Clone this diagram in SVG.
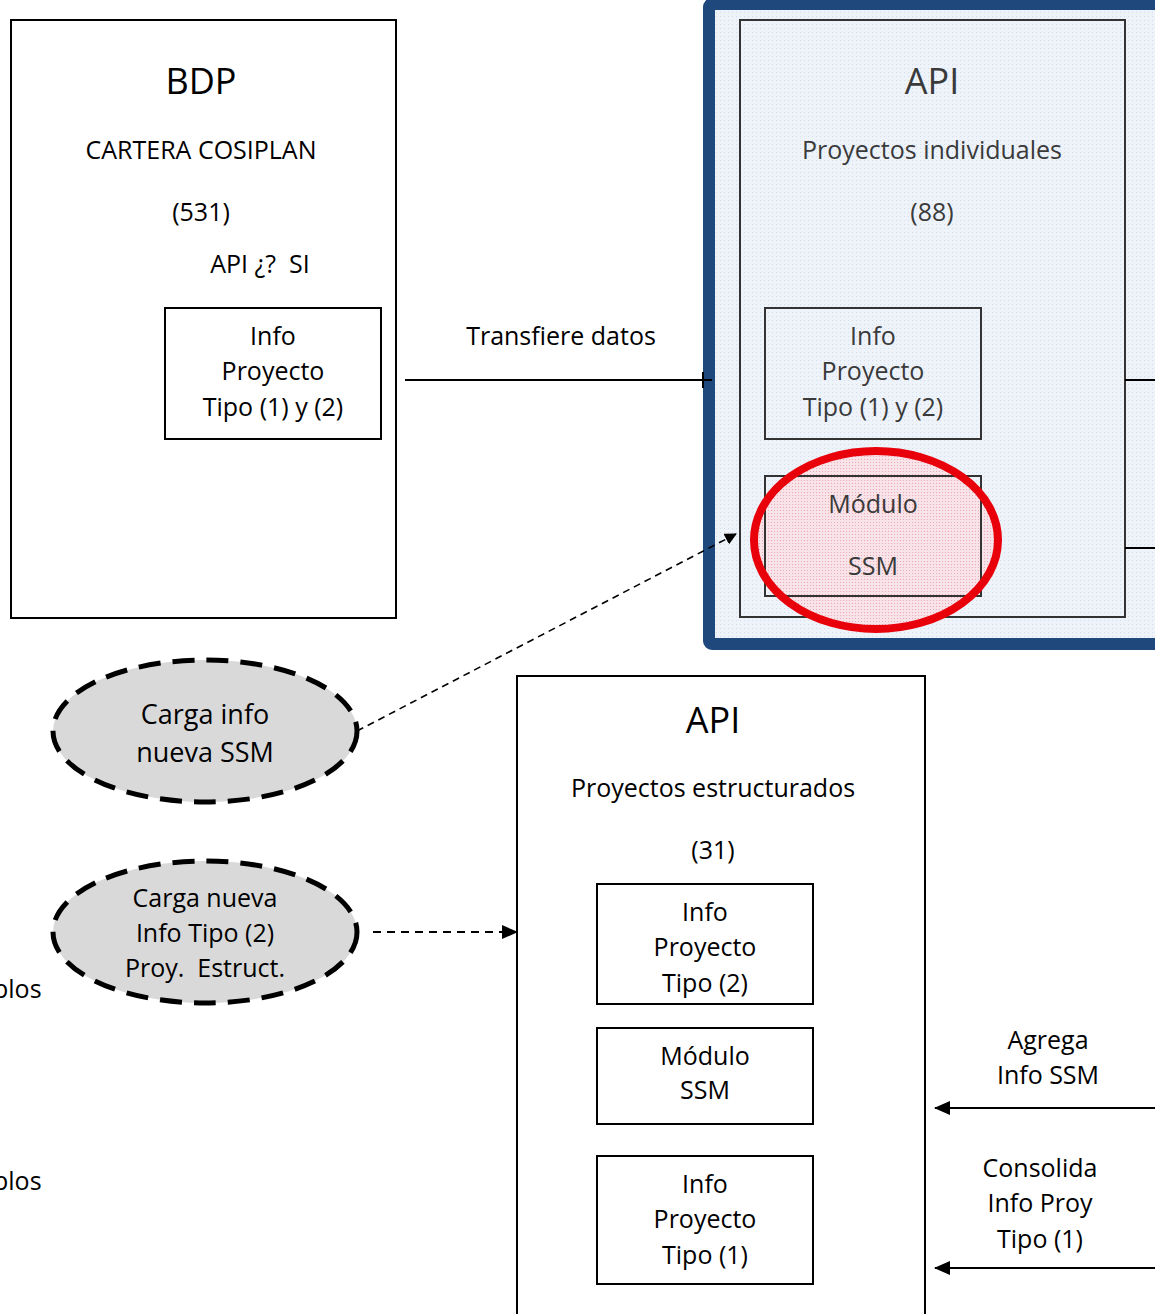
<svg xmlns="http://www.w3.org/2000/svg" width="1155" height="1314" viewBox="0 0 1155 1314">
<style>
text{font-family:"Open Sans","Noto Sans","Liberation Sans",sans-serif;fill:#000;text-anchor:middle}
.t{font-size:36px}
.b{font-size:25px}
.g{fill:#3a3a3a}
.box{fill:none;stroke:#000;stroke-width:2}
.gbox{fill:none;stroke:#333;stroke-width:2}
.ell{fill:#D9D9D9;stroke:#000;stroke-width:5;stroke-dasharray:22 12}
.ln{fill:none;stroke:#000;stroke-width:2}
</style>
<defs>
<pattern id="grid" width="4" height="4" patternUnits="userSpaceOnUse">
<rect width="4" height="4" fill="#EEF3FA"/>
<rect width="1" height="1" fill="#D3DDEE"/>
</pattern>
<pattern id="pink" width="3" height="3" patternUnits="userSpaceOnUse">
<rect width="3" height="3" fill="#F7E3E8"/>
<rect width="1" height="1" fill="#E8A9B8"/>
</pattern>
<marker id="tri" markerWidth="12" markerHeight="12" refX="11" refY="6" orient="auto" markerUnits="userSpaceOnUse">
<path d="M0,0 L12,6 L0,12 z" fill="#000"/>
</marker>
<marker id="tri2" markerWidth="16" markerHeight="14" refX="15" refY="7" orient="auto" markerUnits="userSpaceOnUse">
<path d="M0,0 L16,7 L0,14 z" fill="#000"/>
</marker>
</defs>
<rect width="1155" height="1314" fill="#fff"/>

<g id="bdp">
<rect class="box" x="11" y="20" width="385" height="598"/>
<text class="t" x="201" y="94">BDP</text>
<text class="b" x="201" y="159">CARTERA COSIPLAN</text>
<text class="b" x="201" y="221">(531)</text>
<text class="b" x="260" y="273" xml:space="preserve">API ¿?  SI</text>
</g>
<g id="bdp-info">
<rect class="box" x="165" y="308" width="216" height="131"/>
<text class="b" x="273" y="345">Info</text>
<text class="b" x="273" y="380">Proyecto</text>
<text class="b" x="273" y="416">Tipo (1) y (2)</text>
</g>

<g id="api-individual">
<rect x="709" y="4" width="460" height="640" fill="url(#grid)" stroke="#1F497D" stroke-width="12" rx="3"/>
<rect class="gbox" x="740" y="20" width="385" height="597"/>
<text class="t g" x="932" y="94">API</text>
<text class="b g" x="932" y="159">Proyectos individuales</text>
<text class="b g" x="932" y="221">(88)</text>
</g>
<g id="api-individual-info">
<rect class="gbox" x="765" y="308" width="216" height="131"/>
<text class="b g" x="873" y="345">Info</text>
<text class="b g" x="873" y="380">Proyecto</text>
<text class="b g" x="873" y="416">Tipo (1) y (2)</text>
</g>
<g id="api-individual-ssm">
<ellipse cx="876" cy="540" rx="122" ry="89" fill="url(#pink)"/>
<rect class="gbox" x="765" y="476" width="216" height="120"/>
<text class="b g" x="873" y="513">Módulo</text>
<text class="b g" x="873" y="575">SSM</text>
<ellipse cx="876" cy="540" rx="122" ry="89" fill="none" stroke="#E8000B" stroke-width="8"/>
</g>

<g id="carga-ssm">
<ellipse class="ell" cx="205" cy="731" rx="152" ry="71"/>
<text x="205" y="724" style="font-size:27px">Carga info</text>
<text x="205" y="762" style="font-size:27px">nueva SSM</text>
</g>
<g id="carga-tipo2">
<ellipse class="ell" cx="205" cy="932" rx="152" ry="71"/>
<text class="b" x="205" y="907">Carga nueva</text>
<text class="b" x="205" y="942">Info Tipo (2)</text>
<text class="b" x="205" y="977" xml:space="preserve">Proy.  Estruct.</text>
</g>

<g id="api-estructurados">
<rect class="box" x="517" y="676" width="408" height="660"/>
<text class="t" x="713" y="733">API</text>
<text class="b" x="713" y="797">Proyectos estructurados</text>
<text class="b" x="713" y="859">(31)</text>
</g>
<g id="est-tipo2">
<rect class="box" x="597" y="884" width="216" height="120"/>
<text class="b" x="705" y="921">Info</text>
<text class="b" x="705" y="956">Proyecto</text>
<text class="b" x="705" y="992">Tipo (2)</text>
</g>
<g id="est-ssm">
<rect class="box" x="597" y="1028" width="216" height="96"/>
<text class="b" x="705" y="1065">Módulo</text>
<text class="b" x="705" y="1099">SSM</text>
</g>
<g id="est-tipo1">
<rect class="box" x="597" y="1156" width="216" height="128"/>
<text class="b" x="705" y="1193">Info</text>
<text class="b" x="705" y="1228">Proyecto</text>
<text class="b" x="705" y="1264">Tipo (1)</text>
</g>

<g id="side-text">
<text class="b" x="-7" y="998" style="text-anchor:start">plos</text>
<text class="b" x="-7" y="1190" style="text-anchor:start">plos</text>
</g>

<g id="connectors">
<line class="ln" x1="405" y1="380" x2="712" y2="380"/>
<line class="ln" x1="703" y1="372" x2="703" y2="388"/>
<text class="b" x="561" y="345">Transfiere datos</text>
<line x1="357" y1="731" x2="736" y2="534" stroke="#000" stroke-width="1.6" stroke-dasharray="7 5" marker-end="url(#tri)"/>
<line x1="373" y1="932" x2="517" y2="932" stroke="#000" stroke-width="2" stroke-dasharray="8 6" marker-end="url(#tri2)"/>
<line class="ln" x1="1125" y1="380" x2="1155" y2="380"/>
<line class="ln" x1="1125" y1="548" x2="1155" y2="548"/>
<line class="ln" x1="1155" y1="1108" x2="935" y2="1108" marker-end="url(#tri2)"/>
<line class="ln" x1="1155" y1="1268" x2="935" y2="1268" marker-end="url(#tri2)"/>
<text class="b" x="1048" y="1049">Agrega</text>
<text class="b" x="1048" y="1084">Info SSM</text>
<text class="b" x="1040" y="1177">Consolida</text>
<text class="b" x="1040" y="1212">Info Proy</text>
<text class="b" x="1040" y="1248">Tipo (1)</text>
</g>
</svg>
